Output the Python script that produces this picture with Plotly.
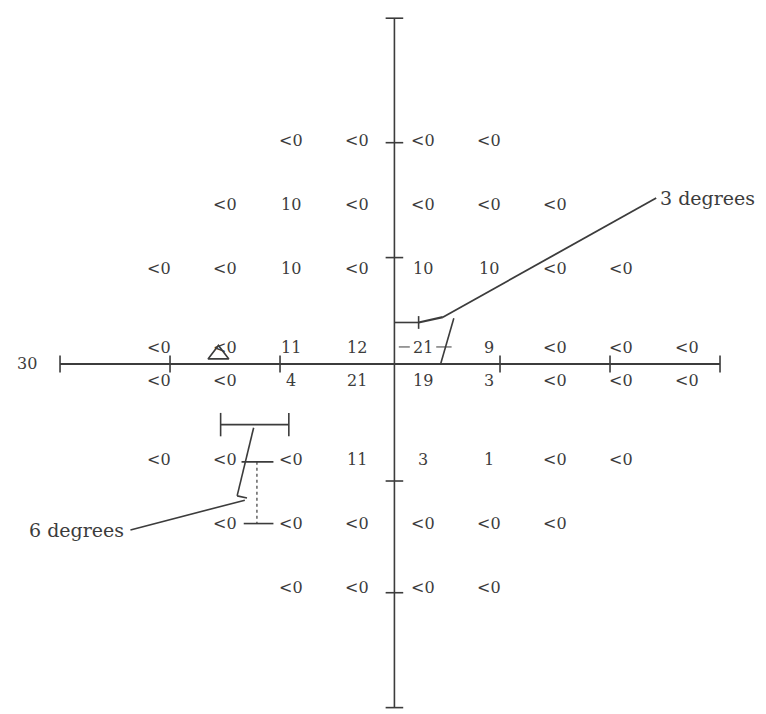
import plotly.graph_objects as go

# visual field grid (degrees)
cols = [-27, -21, -15, -9, -3, 3, 9, 15, 21, 27]
rows = [21, 15, 9, 3, -3, -9, -15, -21]

# threshold values per row, aligned with cols (None = no test point)
row_p21 = [None, None, None, "<0", "<0", "<0", "<0", None, None, None]
row_p15 = [None, None, "<0", "10", "<0", "<0", "<0", "<0", None, None]
row_p9 = [None, "<0", "<0", "10", "<0", "10", "10", "<0", "<0", None]
row_p3 = [None, "<0", "<0", "11", "12", "21", "9", "<0", "<0", "<0"]
row_m3 = [None, "<0", "<0", "4", "21", "19", "3", "<0", "<0", "<0"]
row_m9 = [None, "<0", "<0", "<0", "11", "3", "1", "<0", "<0", None]
row_m15 = [None, None, "<0", "<0", "<0", "<0", "<0", "<0", None, None]
row_m21 = [None, None, None, "<0", "<0", "<0", "<0", None, None, None]
values = [row_p21, row_p15, row_p9, row_p3, row_m3, row_m9, row_m15, row_m21]

axis_ticks = [-30, -20, -10, 10, 20, 30]
vaxis_ticks = [-32.3, -21.5, -11, 10, 20.8, 32.5]

INK = "#3c3c3c"
FONT = "DejaVu Serif"

fig = go.Figure()

# threshold numbers
for r, vals in zip(rows, values):
    for c, v in zip(cols, vals):
        if v is None:
            continue
        # the rows next to the horizontal meridian are printed closer to it
        shift = 0
        if r == 3:
            shift = -15
        elif r == -3:
            shift = 15
        fig.add_annotation(
            x=c, y=r, text=v, showarrow=False, yshift=shift,
            font=dict(family=FONT, size=16, color=INK),
        )

shapes = []
line = dict(color=INK, width=1.6)
# horizontal meridian
shapes.append(dict(type="line", x0=-30, x1=30, y0=0, y1=0, line=dict(color=INK, width=2)))
for t in axis_ticks:
    shapes.append(dict(type="line", x0=t, x1=t, y0=-0.8, y1=0.8, line=line))
# vertical meridian
shapes.append(dict(type="line", x0=0.4, x1=0.4, y0=-32.3, y1=32.5, line=line))
for t in vaxis_ticks:
    shapes.append(dict(type="line", x0=-0.4, x1=1.2, y0=t, y1=t, line=line))

# 3 degrees callout
shapes += [
    dict(type="line", x0=0.4, x1=2.6, y0=3.9, y1=3.9, line=line),
    dict(type="line", x0=2.6, x1=2.6, y0=3.3, y1=4.5, line=line),
    dict(type="line", x0=2.6, x1=4.8, y0=3.9, y1=4.4, line=dict(color=INK, width=2.2)),
    dict(type="line", x0=4.8, x1=24.2, y0=4.4, y1=15.6, line=dict(color=INK, width=1.8)),
    dict(type="line", x0=4.6, x1=5.8, y0=0, y1=4.3, line=line),
    dict(type="line", x0=0.8, x1=1.8, y0=1.6, y1=1.6, line=dict(color=INK, width=1)),
    dict(type="line", x0=4.2, x1=5.6, y0=1.6, y1=1.6, line=dict(color=INK, width=1)),
]
# 6 degrees callout
shapes += [
    dict(type="line", x0=-15.4, x1=-9.2, y0=-5.7, y1=-5.7, line=line),
    dict(type="line", x0=-15.4, x1=-15.4, y0=-4.6, y1=-6.8, line=line),
    dict(type="line", x0=-9.2, x1=-9.2, y0=-4.6, y1=-6.8, line=line),
    dict(type="line", x0=-13.9, x1=-12.4, y0=-12.4, y1=-6.0, line=line),
    dict(type="line", x0=-13.9, x1=-13.0, y0=-12.4, y1=-12.6, line=line),
    dict(type="line", x0=-23.6, x1=-13.2, y0=-15.6, y1=-12.8, line=line),
    dict(type="line", x0=-13.5, x1=-10.6, y0=-9.2, y1=-9.2, line=line),
    dict(type="line", x0=-12.1, x1=-12.1, y0=-9.2, y1=-15.0, line=dict(color=INK, width=1.2, dash="dot")),
    dict(type="line", x0=-13.3, x1=-10.6, y0=-15.0, y1=-15.0, line=line),
]

# blind spot triangle on the horizontal meridian
fig.add_trace(
    go.Scatter(
        x=[-15.6], y=[0.9], mode="markers",
        marker=dict(symbol="triangle-up-open", size=18, color=INK, line=dict(width=1.6)),
        hoverinfo="skip", showlegend=False,
    )
)

fig.add_annotation(x=-33.0, y=0, text="30", showarrow=False,
                   font=dict(family=FONT, size=16, color=INK))
fig.add_annotation(x=24.4, y=15.6, text="3 degrees", showarrow=False, xanchor="left",
                   font=dict(family=FONT, size=19, color=INK))
fig.add_annotation(x=-24.0, y=-15.6, text="6 degrees", showarrow=False, xanchor="right",
                   font=dict(family=FONT, size=19, color=INK))

fig.update_layout(
    width=758,
    height=706,
    autosize=False,
    margin=dict(l=0, r=0, t=0, b=0),
    paper_bgcolor="white",
    plot_bgcolor="white",
    showlegend=False,
    shapes=shapes,
    xaxis=dict(range=[-34.73, 34.18], visible=False, fixedrange=True),
    yaxis=dict(range=[-32.9, 33.46], visible=False, fixedrange=True),
)

fig.write_html("out.html")
